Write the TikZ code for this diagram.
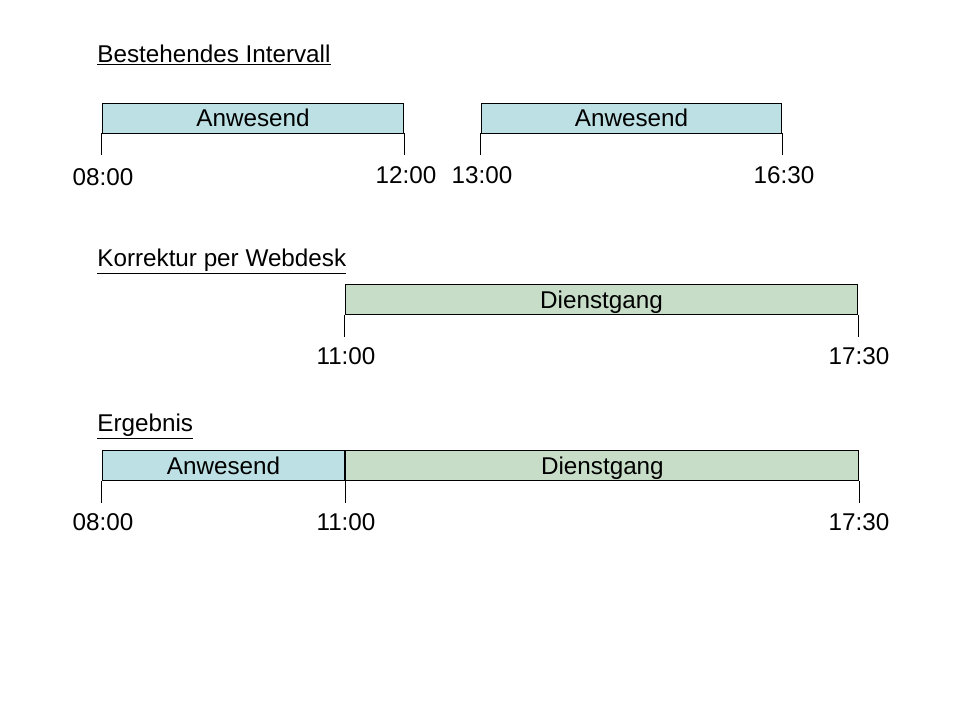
\documentclass[tikz,border=0pt]{standalone}
\usepackage{fontspec}
\setmainfont{Liberation Sans}
\definecolor{anw}{RGB}{189,224,228}
\definecolor{dst}{RGB}{199,221,200}
\begin{document}
\begin{tikzpicture}[x=0.02cm,y=-0.02cm,
  txt/.style={font=\fontsize{13.8}{16}\selectfont, inner sep=0},
  bar/.style={txt, draw, line width=0.55pt, minimum height=0.6cm, inner sep=0, text height=9.9pt, text depth=0pt},
  anwbar/.style={bar, fill=anw},
  dstbar/.style={bar, fill=dst},
  tick/.style={line width=0.55pt},
  timelbl/.style={txt, anchor=base},
  heading/.style={txt, anchor=base west}]
\useasboundingbox (0,0) rectangle (960,720);

% Section 1
\node[heading] (h1) at (97,62) {\underline{Bestehendes Intervall}};
\node[anwbar, minimum width=6.04cm] (a1) at (253,118) {Anwesend};
\node[anwbar, minimum width=6.02cm] (a2) at (631.5,118) {Anwesend};
\draw[tick] (a1.south west) -- ++(0,22) coordinate (t1);
\draw[tick] (a1.south east) -- ++(0,22) coordinate (t2);
\draw[tick] (a2.south west) -- ++(0,22) coordinate (t3);
\draw[tick] (a2.south east) -- ++(0,22) coordinate (t4);
\node[timelbl] (l1) at (103,185) {08:00};
\node[timelbl] (l2) at (406,183) {12:00};
\node[timelbl] (l3) at (482,183) {13:00};
\node[timelbl] (l4) at (784,183) {16:30};

% Section 2
\node[heading] (h2) at (97,266) {\underline{Korrektur per Webdesk}};
\node[dstbar, minimum width=10.26cm] (d1) at (601.5,299.5) {Dienstgang};
\draw[tick] (d1.south west) -- ++(0,22) coordinate (t5);
\draw[tick] (d1.south east) -- ++(0,22) coordinate (t6);
\node[timelbl] (l5) at (346,364) {11:00};
\node[timelbl] (l6) at (859,364) {17:30};

% Section 3
\node[heading] (h3) at (97,431) {\underline{Ergebnis}};
\node[anwbar, minimum width=4.86cm] (a3) at (223.5,465.5) {Anwesend};
\node[dstbar, minimum width=10.26cm, anchor=west] (d2) at (a3.east) {Dienstgang};
\draw[tick] (a3.south west) -- ++(0,22) coordinate (t7);
\draw[tick] (a3.south east) -- ++(0,22) coordinate (t8);
\draw[tick] (d2.south east) -- ++(0,22) coordinate (t9);
\node[timelbl] (l7) at (103,530) {08:00};
\node[timelbl] (l8) at (346,530) {11:00};
\node[timelbl] (l9) at (859,530) {17:30};
\end{tikzpicture}
\end{document}
